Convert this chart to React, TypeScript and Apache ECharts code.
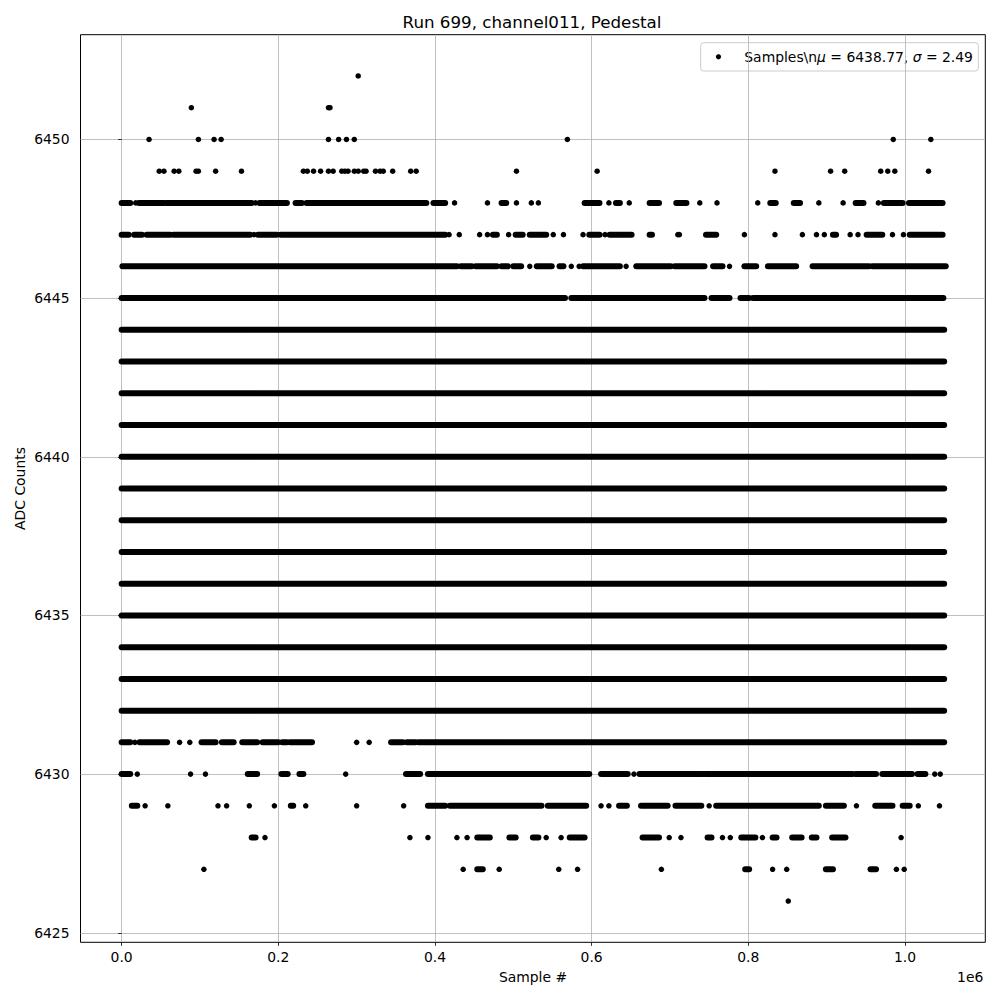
import React, { useEffect, useRef } from "react";
import * as echarts from "echarts";

// x values are in units of 1e6 samples
const xTicks = [0.0, 0.2, 0.4, 0.6, 0.8, 1.0];
const yTicks = [6425, 6430, 6435, 6440, 6445, 6450];

const titleText = "Run 699, channel011, Pedestal";
const legendName = "Samples\\nμ = 6438.77, σ = 2.49";

// levels whose samples fill the whole range
const fullLevels = [6432, 6433, 6434, 6435, 6436, 6437, 6438, 6439, 6440, 6441, 6442, 6443, 6444];
const fullRun = [[0.0, 1.05]];

// dense stretches [from, to] and isolated samples, per ADC level
const dots6452 = [0.302];
const dots6451 = [0.089, 0.264, 0.266];
const dots6450 = [0.035, 0.098, 0.118, 0.127, 0.264, 0.277, 0.287, 0.297, 0.569, 0.985, 1.033];
const dots6449 = [0.048, 0.054, 0.067, 0.073, 0.095, 0.098, 0.12, 0.153, 0.232, 0.237, 0.245, 0.254, 0.264, 0.27, 0.281, 0.285, 0.289, 0.297, 0.302, 0.309, 0.312, 0.324, 0.33, 0.334, 0.346, 0.369, 0.376, 0.504, 0.607, 0.834, 0.905, 0.923, 0.969, 0.978, 0.987, 1.03];

const runs6448 = [[0.0, 0.011], [0.022, 0.054], [0.057, 0.166], [0.176, 0.211], [0.222, 0.23], [0.236, 0.389], [0.398, 0.413], [0.485, 0.491], [0.591, 0.61], [0.631, 0.636], [0.674, 0.686], [0.708, 0.721], [0.828, 0.835], [0.858, 0.866], [0.937, 0.947], [0.973, 0.997], [1.005, 1.048]];
const dots6448 = [0.018, 0.171, 0.425, 0.467, 0.504, 0.523, 0.532, 0.622, 0.648, 0.738, 0.76, 0.812, 0.89, 0.921, 0.966];

const runs6447 = [[0.0, 0.009], [0.016, 0.026], [0.032, 0.062], [0.066, 0.164], [0.174, 0.198], [0.203, 0.413], [0.474, 0.479], [0.503, 0.512], [0.521, 0.542], [0.597, 0.61], [0.623, 0.651], [0.674, 0.677], [0.746, 0.759], [0.908, 0.912], [0.951, 0.971], [1.006, 1.048]];
const dots6447 = [0.169, 0.418, 0.431, 0.457, 0.467, 0.494, 0.551, 0.564, 0.589, 0.617, 0.71, 0.712, 0.795, 0.834, 0.869, 0.887, 0.897, 0.93, 0.94, 0.984, 0.998];

const runs6446 = [[0.001, 0.428], [0.433, 0.447], [0.452, 0.479], [0.485, 0.493], [0.5, 0.51], [0.53, 0.549], [0.559, 0.564], [0.589, 0.636], [0.657, 0.701], [0.706, 0.744], [0.755, 0.767], [0.795, 0.81], [0.825, 0.861], [0.882, 0.954], [0.958, 1.052]];
const dots6446 = [0.521, 0.574, 0.584, 0.644, 0.776];

const runs6445 = [[0.0, 0.566], [0.574, 0.744], [0.753, 0.776], [0.79, 0.801], [0.806, 1.049]];

const runs6431 = [[0.0, 0.011], [0.023, 0.058], [0.102, 0.12], [0.128, 0.143], [0.154, 0.173], [0.18, 0.2], [0.205, 0.211], [0.215, 0.243], [0.344, 0.359], [0.364, 0.375], [0.379, 1.05]];
const dots6431 = [0.017, 0.074, 0.087, 0.3, 0.316];

const runs6430 = [[0.0, 0.011], [0.161, 0.173], [0.204, 0.212], [0.227, 0.232], [0.363, 0.381], [0.391, 0.597], [0.612, 0.646], [0.661, 0.742], [0.745, 0.933], [0.937, 0.963], [0.971, 1.009], [1.016, 1.026]];
const dots6430 = [0.02, 0.088, 0.107, 0.286, 0.654, 1.038, 1.045];

const runs6429 = [[0.013, 0.02], [0.216, 0.219], [0.391, 0.413], [0.419, 0.536], [0.544, 0.593], [0.635, 0.645], [0.663, 0.697], [0.707, 0.74], [0.759, 0.89], [0.899, 0.922], [0.962, 0.984], [0.997, 1.006]];
const dots6429 = [0.03, 0.059, 0.123, 0.134, 0.163, 0.195, 0.235, 0.3, 0.36, 0.612, 0.622, 0.75, 0.938, 1.017, 1.044];

const runs6428 = [[0.166, 0.171], [0.454, 0.47], [0.495, 0.503], [0.525, 0.532], [0.572, 0.591], [0.665, 0.686], [0.748, 0.753], [0.791, 0.809], [0.831, 0.836], [0.856, 0.868], [0.881, 0.887], [0.907, 0.924]];
const dots6428 = [0.183, 0.368, 0.391, 0.428, 0.441, 0.542, 0.561, 0.699, 0.714, 0.767, 0.777, 0.818, 0.995];

const runs6427 = [[0.454, 0.461], [0.796, 0.801], [0.899, 0.908], [0.956, 0.963]];
const dots6427 = [0.105, 0.436, 0.482, 0.558, 0.582, 0.689, 0.831, 0.849, 0.989, 0.999];

const dots6426 = [0.851];

const runGroups: [number, number[][]][] = [
  ...fullLevels.map((y) => [y, fullRun] as [number, number[][]]),
  [6448, runs6448],
  [6447, runs6447],
  [6446, runs6446],
  [6445, runs6445],
  [6431, runs6431],
  [6430, runs6430],
  [6429, runs6429],
  [6428, runs6428],
  [6427, runs6427],
];

const dotGroups: [number, number[]][] = [
  [6452, dots6452],
  [6451, dots6451],
  [6450, dots6450],
  [6449, dots6449],
  [6448, dots6448],
  [6447, dots6447],
  [6446, dots6446],
  [6431, dots6431],
  [6430, dots6430],
  [6429, dots6429],
  [6428, dots6428],
  [6427, dots6427],
  [6426, dots6426],
];

const FONT = "DejaVu Sans";

export default function App() {
  const ref = useRef<HTMLDivElement>(null);

  useEffect(() => {
    document.body.style.margin = "0";
    if (!ref.current) return;
    const chart = echarts.init(ref.current, null, { renderer: "svg" });

    const runData = runGroups.flatMap(([y, runs]) => runs.map(([a, b]) => [a, b, y]));
    const dotData = dotGroups.flatMap(([y, xs]) => xs.map((x) => [x, y]));

    const dotSize = 5.5;

    chart.setOption({
      animation: false,
      backgroundColor: "#ffffff",
      textStyle: { fontFamily: FONT },
      grid: {
        left: 80.5,
        right: 14.7,
        top: 34.7,
        bottom: 57.7,
        show: true,
        borderColor: "#000000",
        borderWidth: 1,
        backgroundColor: "transparent",
      },
      xAxis: {
        type: "value",
        min: -0.0525,
        max: 1.1025,
        axisLine: { show: false },
        axisTick: { show: true, length: 3.5, inside: false, customValues: xTicks, lineStyle: { color: "#000", width: 0.8 } },
        axisLabel: {
          customValues: xTicks,
          margin: 8,
          color: "#000",
          fontFamily: FONT,
          fontSize: 13.9,
          formatter: (v: number) => v.toFixed(1),
        },
        splitLine: { show: true, lineStyle: { color: "#b0b0b0", width: 0.8 } },
      },
      yAxis: {
        type: "value",
        min: 6424.7,
        max: 6453.3,
        axisLine: { show: false },
        axisTick: { show: true, length: 3.5, inside: false, customValues: yTicks, lineStyle: { color: "#000", width: 0.8 } },
        axisLabel: {
          customValues: yTicks,
          margin: 11,
          color: "#000",
          fontFamily: FONT,
          fontSize: 13.9,
          formatter: (v: number) => String(v),
        },
        splitLine: { show: true, lineStyle: { color: "#b0b0b0", width: 0.8 } },
      },
      series: [
        {
          type: "custom",
          name: "runs",
          silent: true,
          encode: { x: [0, 1], y: 2 },
          data: runData,
          renderItem: (params: any, api: any) => {
            const p0 = api.coord([api.value(0), api.value(2)]);
            const p1 = api.coord([api.value(1), api.value(2)]);
            return {
              type: "line",
              shape: { x1: p0[0], y1: p0[1], x2: p1[0], y2: p1[1] },
              style: { stroke: "#000000", lineWidth: dotSize + 0.5, lineCap: "round" },
            };
          },
        },
        {
          type: "scatter",
          name: legendName,
          symbol: "circle",
          symbolSize: dotSize,
          silent: true,
          itemStyle: { color: "#000000", opacity: 1 },
          data: dotData,
        },
      ],
      graphic: [
        {
          type: "text",
          x: 532,
          y: 21.7,
          style: {
            text: titleText,
            font: `16.7px "${FONT}"`,
            fill: "#000",
            align: "center",
            verticalAlign: "middle",
          },
        },
        {
          type: "text",
          x: 533,
          y: 977,
          style: {
            text: "Sample #",
            font: `13.9px "${FONT}"`,
            fill: "#000",
            align: "center",
            verticalAlign: "middle",
          },
        },
        {
          type: "text",
          x: 983.3,
          y: 976.7,
          style: {
            text: "1e6",
            font: `13.9px "${FONT}"`,
            fill: "#000",
            align: "right",
            verticalAlign: "middle",
          },
        },
        {
          type: "text",
          x: 20,
          y: 488.5,
          rotation: Math.PI / 2,
          style: {
            text: "ADC Counts",
            font: `13.9px "${FONT}"`,
            fill: "#000",
            align: "center",
            verticalAlign: "middle",
          },
        },
        {
          type: "group",
          z: 100,
          children: [
            {
              type: "rect",
              shape: { x: 700.7, y: 42.7, width: 277.6, height: 28.3, r: 3 },
              style: { fill: "rgba(255,255,255,0.8)", stroke: "#cccccc", lineWidth: 1 },
            },
            {
              type: "circle",
              shape: { cx: 718.5, cy: 56.8, r: 2.6 },
              style: { fill: "#000000" },
            },
            {
              type: "text",
              x: 744.3,
              y: 56.8,
              style: {
                text: "{n|Samples\\n}{i|μ}{n| = 6438.77, }{i|σ}{n| = 2.49}",
                verticalAlign: "middle",
                align: "left",
                rich: {
                  n: { fontFamily: FONT, fontSize: 13.9, fill: "#000" },
                  i: { fontFamily: FONT, fontSize: 13.9, fontStyle: "italic", fill: "#000" },
                },
              },
            },
          ],
        },
      ],
    });

    return () => chart.dispose();
  }, []);

  return <div ref={ref} style={{ width: 1000, height: 1000 }} />;
}
